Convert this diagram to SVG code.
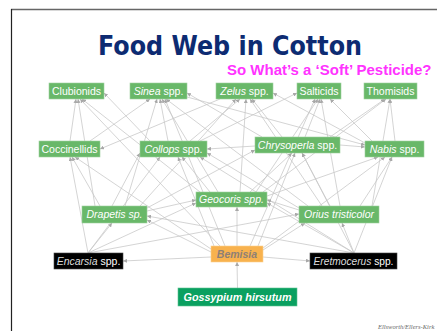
<svg xmlns="http://www.w3.org/2000/svg" width="437" height="332" viewBox="0 0 437 332">
<defs>
<marker id="a" viewBox="0 0 6 6" refX="6" refY="3" markerWidth="4" markerHeight="4" markerUnits="userSpaceOnUse" orient="auto">
<path d="M0,0 L6,3 L0,6 z" fill="#a8a8a8"/>
</marker>
<style>
.e{stroke:#c6c6c6;stroke-width:0.75;fill:none;marker-end:url(#a)}
.g{fill:#69b869;stroke:#9fd19f;stroke-width:0.6}
.k{fill:#000;stroke:#444;stroke-width:0.6}
.t{font-family:"Liberation Sans",Arial,sans-serif;font-size:10.5px;fill:#fff;text-anchor:middle}
.i{font-style:italic}
</style>
</defs>
<rect width="437" height="332" fill="#fff"/>
<line x1="11" y1="9.5" x2="437" y2="9.5" stroke="#666" stroke-width="1.5"/>
<line x1="11.5" y1="9" x2="11.5" y2="331" stroke="#222" stroke-width="1.2"/>
<text x="230" y="55" font-family="DejaVu Sans,Verdana,sans-serif" font-weight="bold" font-size="26" fill="#0d2b72" text-anchor="middle" textLength="264" lengthAdjust="spacingAndGlyphs">Food Web in Cotton</text>
<text x="227" y="75" font-family="Liberation Sans,Arial,sans-serif" font-weight="bold" font-size="15" fill="#ff33ff">So What’s a ‘Soft’ Pesticide?</text>
<g id="connectors">
<line class="e" x1="237.5" y1="288" x2="237" y2="262"/>
<line class="e" x1="211" y1="257" x2="123" y2="261"/>
<line class="e" x1="263" y1="257" x2="310" y2="261"/>
<line class="e" x1="237" y1="246" x2="237" y2="207"/>
<line class="e" x1="211" y1="252" x2="147" y2="220"/>
<line class="e" x1="211" y1="249" x2="75" y2="157"/>
<line class="e" x1="214" y1="246" x2="178" y2="157"/>
<line class="e" x1="220" y1="246" x2="80" y2="99"/>
<line class="e" x1="263" y1="250" x2="305" y2="223"/>
<line class="e" x1="258" y1="246" x2="295" y2="153"/>
<line class="e" x1="263" y1="248" x2="385" y2="157"/>
<line class="e" x1="250" y1="246" x2="315" y2="99"/>
<line class="e" x1="225" y1="246" x2="165" y2="99"/>
<line class="e" x1="88" y1="253" x2="112" y2="223"/>
<line class="e" x1="88" y1="253" x2="70" y2="157"/>
<line class="e" x1="88" y1="253" x2="196" y2="203"/>
<line class="e" x1="88" y1="253" x2="299" y2="214"/>
<line class="e" x1="88" y1="253" x2="160" y2="157"/>
<line class="e" x1="354" y1="253" x2="342" y2="223"/>
<line class="e" x1="354" y1="253" x2="267" y2="203"/>
<line class="e" x1="354" y1="253" x2="147" y2="216"/>
<line class="e" x1="354" y1="253" x2="302" y2="153"/>
<line class="e" x1="354" y1="253" x2="200" y2="157"/>
<line class="e" x1="354" y1="253" x2="392" y2="157"/>
<line class="e" x1="112" y1="206" x2="140" y2="153"/>
<line class="e" x1="100" y1="206" x2="72" y2="157"/>
<line class="e" x1="147" y1="211" x2="196" y2="200"/>
<line class="e" x1="95" y1="206" x2="78" y2="99"/>
<line class="e" x1="125" y1="206" x2="157" y2="99"/>
<line class="e" x1="140" y1="206" x2="236" y2="99"/>
<line class="e" x1="147" y1="208" x2="255" y2="150"/>
<line class="e" x1="210" y1="192" x2="182" y2="157"/>
<line class="e" x1="250" y1="192" x2="292" y2="153"/>
<line class="e" x1="218" y1="192" x2="162" y2="99"/>
<line class="e" x1="240" y1="192" x2="246" y2="99"/>
<line class="e" x1="256" y1="192" x2="318" y2="99"/>
<line class="e" x1="267" y1="196" x2="378" y2="157"/>
<line class="e" x1="200" y1="192" x2="82" y2="99"/>
<line class="e" x1="263" y1="192" x2="386" y2="99"/>
<line class="e" x1="299" y1="210" x2="267" y2="200"/>
<line class="e" x1="330" y1="206" x2="302" y2="153"/>
<line class="e" x1="360" y1="206" x2="392" y2="157"/>
<line class="e" x1="372" y1="206" x2="390" y2="99"/>
<line class="e" x1="340" y1="206" x2="321" y2="99"/>
<line class="e" x1="322" y1="206" x2="250" y2="99"/>
<line class="e" x1="308" y1="206" x2="166" y2="99"/>
<line class="e" x1="299" y1="208" x2="207" y2="153"/>
<line class="e" x1="255" y1="146" x2="207" y2="149"/>
<line class="e" x1="340" y1="145" x2="365" y2="147"/>
<line class="e" x1="282" y1="137" x2="252" y2="99"/>
<line class="e" x1="305" y1="137" x2="320" y2="99"/>
<line class="e" x1="330" y1="137" x2="385" y2="99"/>
<line class="e" x1="262" y1="137" x2="187" y2="93"/>
<line class="e" x1="168" y1="141" x2="160" y2="99"/>
<line class="e" x1="190" y1="141" x2="240" y2="99"/>
<line class="e" x1="150" y1="141" x2="104" y2="93"/>
<line class="e" x1="200" y1="141" x2="297" y2="93"/>
<line class="e" x1="70" y1="141" x2="76" y2="99"/>
<line class="e" x1="90" y1="141" x2="150" y2="99"/>
<line class="e" x1="220" y1="99" x2="100" y2="149"/>
<line class="e" x1="372" y1="141" x2="330" y2="99"/>
<line class="e" x1="395" y1="141" x2="390" y2="99"/>
<line class="e" x1="365" y1="143" x2="273" y2="93"/>
<line class="e" x1="187" y1="97" x2="365" y2="145"/>
</g>
<g id="n-clubionids"><rect class="g" x="49" y="83" width="55" height="16"/><text class="t" x="76.5" y="94.8">Clubionids</text></g>
<g id="n-sinea"><rect class="g" x="130" y="83" width="57" height="16"/><text class="t" x="158.5" y="94.8"><tspan class="i">Sinea</tspan> spp.</text></g>
<g id="n-zelus"><rect class="g" x="216" y="83" width="57" height="16"/><text class="t" x="244.5" y="94.8"><tspan class="i">Zelus</tspan> spp.</text></g>
<g id="n-salticids"><rect class="g" x="297" y="83" width="44" height="16"/><text class="t" x="319" y="94.8">Salticids</text></g>
<g id="n-thomisids"><rect class="g" x="364" y="83" width="53" height="16"/><text class="t" x="390.5" y="94.8">Thomisids</text></g>
<g id="n-coccinellids"><rect class="g" x="39" y="141" width="61" height="16"/><text class="t" x="69.5" y="152.8">Coccinellids</text></g>
<g id="n-collops"><rect class="g" x="140" y="141" width="67" height="16"/><text class="t" x="173.5" y="152.8"><tspan class="i">Collops</tspan> spp.</text></g>
<g id="n-chrysoperla"><rect class="g" x="255" y="137" width="85" height="16"/><text class="t" x="297.5" y="148.8"><tspan class="i">Chrysoperla</tspan> spp.</text></g>
<g id="n-nabis"><rect class="g" x="365" y="141" width="59" height="16"/><text class="t" x="394.5" y="152.8"><tspan class="i">Nabis</tspan> spp.</text></g>
<g id="n-geocoris"><rect class="g" x="196" y="192" width="71" height="15"/><text class="t i" x="231.5" y="203.3">Geocoris spp.</text></g>
<g id="n-drapetis"><rect class="g" x="82" y="206" width="65" height="17"/><text class="t i" x="114.5" y="218.3">Drapetis sp.</text></g>
<g id="n-orius"><rect class="g" x="299" y="206" width="80" height="17"/><text class="t i" x="339" y="218.3">Orius tristicolor</text></g>
<g id="n-encarsia"><rect class="k" x="54" y="253" width="69" height="16"/><text class="t" x="88.5" y="264.8"><tspan class="i" fill="#ddd">Encarsia</tspan> spp.</text></g>
<g id="n-bemisia"><rect x="211" y="246" width="52" height="16" fill="#f8b24e" stroke="#fbd08f" stroke-width="0.6"/><text class="t i" x="237" y="257.8" font-weight="bold" style="fill:#8e8076">Bemisia</text></g>
<g id="n-eretmocerus"><rect class="k" x="310" y="253" width="87" height="16"/><text class="t" x="353.5" y="264.8" style="font-size:10.2px"><tspan class="i" fill="#ddd">Eretmocerus</tspan> spp.</text></g>
<g id="n-gossypium"><rect x="178" y="288" width="119" height="18" fill="#0aa060" stroke="#5cc492" stroke-width="0.6"/><text class="t i" x="237.5" y="301" font-weight="bold" style="font-size:10.8px">Gossypium hirsutum</text></g>
<text x="378" y="329" font-family="Liberation Serif,serif" font-style="italic" font-size="6.5" fill="#666">Ellsworth/Ellers-Kirk</text>
</svg>
